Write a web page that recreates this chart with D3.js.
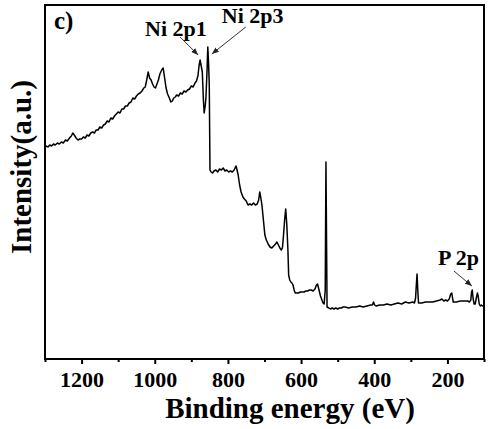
<!DOCTYPE html>
<html>
<head>
<meta charset="utf-8">
<script src="https://cdn.jsdelivr.net/npm/d3@7/dist/d3.min.js"></script>
<style>
  html, body { margin: 0; padding: 0; background: #fff; }
  svg { display: block; }
</style>
</head>
<body>
<svg id="chart" width="494" height="429"></svg>
<script>
// ---- data ----
const energy = [
  1300,1296,1292,1287,1282,1277,1272,1266,1261,1255,1250,1244,1239,1233,1228,1224,1220,1215,1210,1205,
  1200,1195,1190,1185,1180,1175,1170,1165,1160,1155,1150,1145,1140,1135,1130,1125,1120,1115,1110,1105,
  1100,1095,1090,1085,1080,1075,1070,1065,1060,1055,1050,1045,1040,1035,1030,1026,1022,1018,1014,1010,
  1006,1002,998,994,990,986,981,977,973,969,965,960,956,952,948,944,940,935,930,925,
  920,915,910,905,900,895,890,886,882,879,876,873,870,867,865,862,860,857,855,853,
  851,849,846,842,838,833,828,823,818,813,808,803,798,793,788,783,778,775,772,768,
  764,759,755,750,745,740,735,730,725,720,716,713,710,707,703,699,695,690,685,680,
  675,670,666,662,658,654,651,648,645,642,639,636,634,631,628,625,622,619,616,612,
  607,602,597,592,587,582,577,572,567,562,558,555,551,547,543,540,537,534,532,529,
  524,520,515,510,505,500,495,490,485,480,470,460,450,440,430,420,410,405,402,399,
  395,385,375,365,355,345,335,325,315,305,295,290,287,285,283,281,279,270,260,250,
  240,230,220,215,210,205,200,195,191,188,186,184,175,165,155,145,140,136,134,132,
  130,127,124,121,118,116,113,110,107,104,100
];
const intensity = [
  211,213,212,214,213,215,214,216,215,217,216,219,218,221,223,226,224,221,219,220,
  220,222,221,224,223,226,227,226,229,229,232,231,234,235,238,237,241,240,243,245,
  247,246,250,250,253,253,256,257,261,260,263,265,266,268,271,272,279,287,281,279,
  275,272,271,275,279,285,289,291,281,271,265,261,257,258,261,262,264,263,266,265,
  268,267,269,270,273,272,276,278,283,293,299,293,287,259,246,253,262,289,312,297,
  275,189,187,186,188,189,187,190,189,191,188,189,187,188,187,189,193,189,184,174,
  167,162,160,158,154,155,154,156,154,155,159,167,161,154,139,124,119,115,112,111,
  113,115,117,114,111,109,111,124,139,150,134,109,84,79,77,76,74,69,66,66,
  66,67,67,67,68,68,69,69,68,70,74,75,69,63,59,56,55,69,197,52,
  51,50,51,50,51,50,51,51,52,52,51,52,52,53,52,53,54,54,57,54,
  53,54,54,55,54,55,56,55,57,56,57,56,61,74,85,69,56,56,57,57,
  57,58,59,60,58,59,58,60,65,66,61,57,57,58,58,58,57,59,67,69,
  61,55,55,61,66,63,55,53,54,53,53
];
const xTicks = [1200, 1000, 800, 600, 400, 200];
const xMinorTicks = [1300, 1100, 900, 700, 500, 300, 100];
const xDomain = [1300, 100];
const yDomain = [0, 354];
const labelTexts = ["Ni 2p1", "Ni 2p3", "P 2p"];
const labelEnergies = [876, 855, 133];
const labelIntensities = [299, 312, 69];
const panelLabel = "c)";
const xTitle = "Binding energy (eV)";
const yTitle = "Intensity(a.u.)";

// ---- layout ----
const FONT = "Liberation Serif, Times New Roman, Tinos, Nimbus Roman, serif";
const svg = d3.select("#chart");
const L = 45, R = 484, T = 5, B = 359;
const x = d3.scaleLinear().domain(xDomain).range([L, R]);
const y = d3.scaleLinear().domain(yDomain).range([B, T]);

function txt(sel) {
  return sel.attr("font-family", FONT).attr("font-weight", "bold").attr("fill", "#000");
}

// spectrum
const pts = energy.map((e, i) => [e, intensity[i]]);
svg.append("path")
  .datum(pts)
  .attr("fill", "none")
  .attr("stroke", "#000")
  .attr("stroke-width", 1.5)
  .attr("stroke-linejoin", "round")
  .attr("d", d3.line().x(d => x(d[0])).y(d => y(d[1])));

// bottom axis
const ax = svg.append("g").attr("transform", `translate(0,${B})`)
  .call(d3.axisBottom(x).tickValues(xTicks).tickSize(5).tickPadding(7).tickFormat(d3.format("d")));
ax.attr("font-family", FONT).attr("font-size", 22).attr("font-weight", "bold");
ax.select(".domain").remove();
ax.selectAll(".tick line").attr("stroke", "#000").attr("stroke-width", 2);
txt(ax.selectAll(".tick text"));

const axm = svg.append("g").attr("transform", `translate(0,${B})`)
  .call(d3.axisBottom(x).tickValues(xMinorTicks).tickSize(3).tickFormat(""));
axm.select(".domain").remove();
axm.selectAll(".tick line").attr("stroke", "#000").attr("stroke-width", 2);
axm.selectAll(".tick text").remove();

// frame
svg.append("rect")
  .attr("x", L).attr("y", T).attr("width", R - L).attr("height", B - T)
  .attr("fill", "none").attr("stroke", "#000").attr("stroke-width", 2);

// titles
txt(svg.append("text")).attr("x", 290).attr("y", 418).attr("text-anchor", "middle")
  .attr("font-size", 29).text(xTitle);
txt(svg.append("text")).attr("transform", "translate(31,167) rotate(-90)").attr("text-anchor", "middle")
  .attr("font-size", 29).text(yTitle);
txt(svg.append("text")).attr("x", 54).attr("y", 29).attr("font-size", 25).text(panelLabel);

// arrow marker
svg.append("defs").append("marker")
  .attr("id", "arr").attr("viewBox", "0 0 10 10").attr("refX", 10).attr("refY", 5)
  .attr("markerWidth", 7).attr("markerHeight", 7).attr("orient", "auto")
  .append("path").attr("d", "M0,1 L10,5 L0,9 Z").attr("fill", "#222");

// annotations: text offset (px) and arrow start/end offsets relative to the peak
const textOff = [[-55, -24], [14, -24], [-34, -25]];
const arrStart = [[-20, -23], [38, -20], [-18, -19]];
const arrEnd = [[-2, -5], [4, 7], [0, -4]];
labelTexts.forEach((t, i) => {
  const px = x(labelEnergies[i]), py = y(labelIntensities[i]);
  svg.append("line")
    .attr("x1", px + arrStart[i][0]).attr("y1", py + arrStart[i][1])
    .attr("x2", px + arrEnd[i][0]).attr("y2", py + arrEnd[i][1])
    .attr("stroke", "#333").attr("stroke-width", 1).attr("marker-end", "url(#arr)");
  txt(svg.append("text")).attr("x", px + textOff[i][0]).attr("y", py + textOff[i][1])
    .attr("font-size", 22).text(t);
});
</script>
</body>
</html>
